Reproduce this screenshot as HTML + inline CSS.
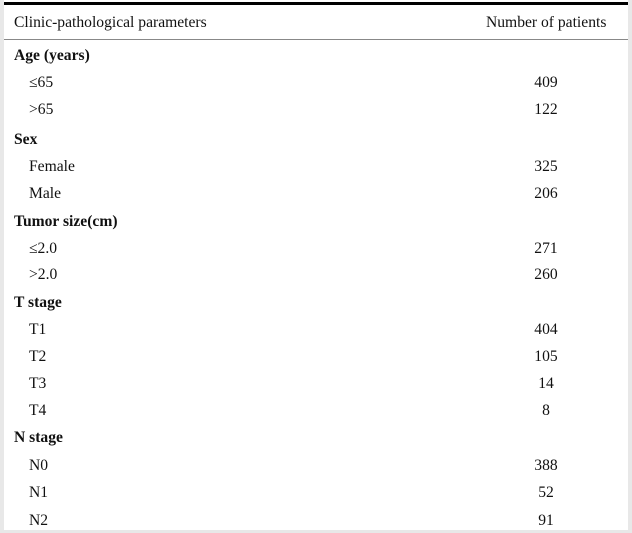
<!DOCTYPE html>
<html><head><style>
body{margin:0;width:632px;height:533px;background:#e8e8e8;position:relative;overflow:hidden;font-family:"Liberation Serif",serif;color:#111;font-size:15.6px}
#p{position:absolute;left:4px;top:0;width:624px;height:530px;background:#fff}
.t{position:absolute;white-space:nowrap;line-height:16px}
.b{font-weight:bold}
.n{position:absolute;width:60px;left:516px;text-align:center;line-height:16px}
</style></head><body>
<div id="p"></div>
<div style="position:absolute;left:4px;top:2px;width:624px;height:3px;background:#000"></div>
<div style="position:absolute;left:4px;top:39px;width:624px;height:1px;background:#888"></div>
<div class="t" style="left:14px;top:15px">Clinic-pathological parameters</div>
<div class="t" style="left:486px;top:15px">Number of patients</div>
<div class="t b" style="left:14px;top:48px">Age (years)</div>
<div class="t" style="left:29px;top:75px">≤65</div><div class="n" style="top:75px">409</div>
<div class="t" style="left:29px;top:102px">&gt;65</div><div class="n" style="top:102px">122</div>
<div class="t b" style="left:14px;top:132px">Sex</div>
<div class="t" style="left:29px;top:159px">Female</div><div class="n" style="top:159px">325</div>
<div class="t" style="left:29px;top:186px">Male</div><div class="n" style="top:186px">206</div>
<div class="t b" style="left:14px;top:214px">Tumor size(cm)</div>
<div class="t" style="left:29px;top:241px">≤2.0</div><div class="n" style="top:241px">271</div>
<div class="t" style="left:29px;top:267px">&gt;2.0</div><div class="n" style="top:267px">260</div>
<div class="t b" style="left:14px;top:295px">T stage</div>
<div class="t" style="left:29px;top:322px">T1</div><div class="n" style="top:322px">404</div>
<div class="t" style="left:29px;top:349px">T2</div><div class="n" style="top:349px">105</div>
<div class="t" style="left:29px;top:376px">T3</div><div class="n" style="top:376px">14</div>
<div class="t" style="left:29px;top:403px">T4</div><div class="n" style="top:403px">8</div>
<div class="t b" style="left:14px;top:430px">N stage</div>
<div class="t" style="left:29px;top:458px">N0</div><div class="n" style="top:458px">388</div>
<div class="t" style="left:29px;top:485px">N1</div><div class="n" style="top:485px">52</div>
<div class="t" style="left:29px;top:513px">N2</div><div class="n" style="top:513px">91</div>
</body></html>
